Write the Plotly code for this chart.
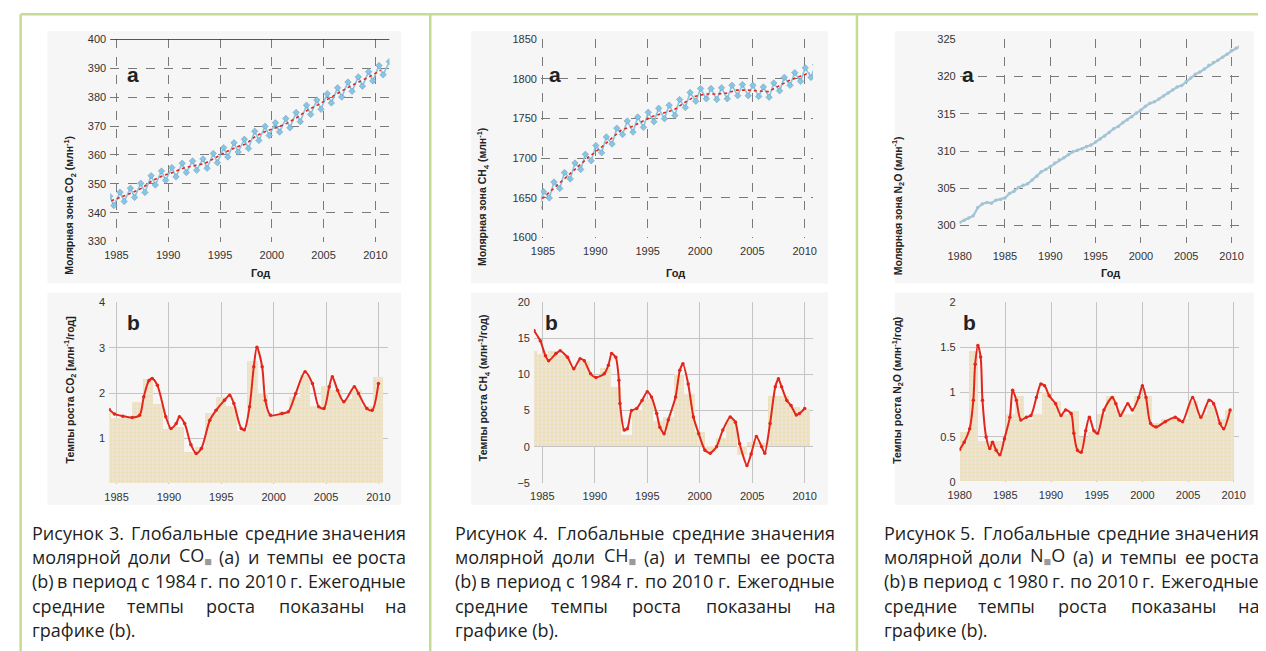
import plotly.graph_objects as go

W, H = 1266, 651

# ---------------- DATA ----------------
# CO2 (a): annual trend, seasonal maxima / minima (ppm)
CO2_YEARS = list(range(1984, 2011))
CO2_TREND = [344.1, 345.5, 346.9, 348.6, 351.2, 352.8, 354.0, 355.5, 356.3, 357.0,
             358.9, 360.9, 362.6, 363.8, 366.6, 368.3, 369.5, 371.0, 373.1, 375.6,
             377.4, 379.6, 381.6, 383.6, 385.4, 387.2, 389.3]
CO2_SEAS_YEARS = list(range(1984, 2012))
CO2_PEAK = [345.7, 347.1, 348.5, 350.2, 352.8, 354.4, 355.6, 357.1, 357.9, 358.6,
            360.5, 362.5, 364.2, 365.4, 368.2, 369.9, 371.1, 372.6, 374.7, 377.2,
            379.0, 381.2, 383.2, 385.2, 387.0, 388.8, 390.9, 392.3]
CO2_TROUGH = [342.5, 343.9, 345.3, 347.0, 349.6, 351.2, 352.4, 353.9, 354.7, 355.4,
              357.3, 359.3, 361.0, 362.2, 365.0, 366.7, 367.9, 369.4, 371.5, 374.0,
              375.8, 378.0, 380.0, 382.0, 383.8, 385.6, 387.7, 389.0]

# CO2 (b): growth rate (ppm/yr)
CO2_GR_X = [1984.3, 1984.8, 1985.6, 1986.5, 1987.2, 1987.6, 1988.1, 1988.4, 1988.9, 1989.7,
            1990.2, 1990.7, 1991.0, 1991.5, 1992.1, 1992.6, 1993.1, 1993.9, 1994.5, 1995.3,
            1995.8, 1996.2, 1996.9, 1997.2, 1997.7, 1998.1, 1998.4, 1998.9, 1999.2, 1999.7,
            2000.8, 2001.4, 2002.1, 2003.0, 2003.7, 2004.3, 2004.8, 2005.3, 2005.6, 2006.1,
            2006.7, 2007.7, 2008.1, 2008.9, 2009.4, 2010.0]
CO2_GR_Y = [1.64, 1.54, 1.49, 1.46, 1.51, 1.92, 2.28, 2.32, 2.17, 1.48,
            1.22, 1.33, 1.48, 1.33, 0.86, 0.67, 0.78, 1.40, 1.62, 1.84,
            1.95, 1.77, 1.22, 1.19, 1.70, 2.58, 3.01, 2.58, 1.84, 1.51,
            1.55, 1.59, 1.99, 2.47, 2.21, 1.70, 1.66, 2.14, 2.36, 2.06,
            1.81, 2.14, 1.99, 1.66, 1.62, 2.21]
CO2_BAR_YEARS = list(range(1984, 2011))
CO2_BAR = [1.6, 1.45, 1.45, 1.8, 2.3, 1.75, 1.2, 1.25, 0.7, 0.8,
           1.55, 1.9, 1.7, 1.15, 2.7, 2.0, 1.5, 1.6, 1.9, 2.4,
           1.7, 2.15, 2.05, 1.85, 2.05, 1.7, 2.35]

# CH4 (a): annual trend, seasonal maxima / minima (ppb)
CH4_YEARS = list(range(1984, 2011))
CH4_TREND = [1644, 1656, 1668, 1680, 1692, 1703, 1713, 1724, 1736, 1740,
             1746, 1753, 1757, 1761, 1770, 1778, 1781, 1781, 1782, 1786,
             1786, 1785, 1784, 1791, 1798, 1803, 1808]
CH4_SEAS_YEARS = list(range(1984, 2012))
CH4_PEAK = [1646, 1658, 1670, 1682, 1694, 1705, 1716, 1727, 1738, 1747,
            1752, 1758, 1763, 1767, 1774, 1783, 1788, 1788, 1789, 1792,
            1793, 1792, 1790, 1795, 1802, 1808, 1814, 1818]
CH4_TROUGH = [1638, 1650, 1662, 1674, 1686, 1697, 1707, 1718, 1730, 1733,
              1739, 1746, 1750, 1754, 1764, 1772, 1775, 1774, 1775, 1779,
              1779, 1778, 1777, 1785, 1792, 1797, 1802, 1806]

# CH4 (b): growth rate (ppb/yr)
CH4_GR_X = [1984.2, 1984.8, 1985.3, 1985.6, 1986.3, 1986.7, 1987.4, 1988.0, 1988.6, 1989.0,
            1989.6, 1990.1, 1990.9, 1991.3, 1991.6, 1992.0, 1992.3, 1992.4, 1992.8, 1993.1,
            1993.5, 1994.0, 1994.5, 1995.0, 1995.4, 1995.9, 1996.2, 1996.6, 1997.0, 1997.7,
            1998.1, 1998.4, 1998.9, 1999.4, 1999.9, 2000.5, 2001.0, 2001.6, 2002.2, 2002.9,
            2003.4, 2003.8, 2004.5, 2004.9, 2005.4, 2005.9, 2006.2, 2006.7, 2007.2, 2007.5,
            2007.8, 2008.3, 2008.7, 2009.2, 2009.5, 2010.0]
CH4_GR_Y = [16.1, 14.7, 12.6, 11.9, 12.9, 13.3, 12.4, 10.8, 12.2, 11.9,
            10.1, 9.6, 10.1, 11.3, 12.9, 12.4, 9.2, 6.0, 2.3, 2.5,
            5.0, 5.3, 6.4, 7.6, 6.9, 4.6, 2.7, 1.8, 3.7, 6.9,
            10.6, 11.5, 8.7, 4.1, 1.8, -0.5, -0.9, 0.0, 2.3, 4.1,
            3.4, 0.4, -2.6, -1.0, 1.4, 0.0, -0.9, 3.2, 8.3, 9.4,
            8.3, 6.4, 5.7, 4.4, 4.6, 5.3]
CH4_BAR_YEARS = list(range(1984, 2011))
CH4_BAR = [13.2, 12.8, 13.2, 12.6, 11.0, 11.8, 9.8, 10.8, 8.2, 1.5,
           5.0, 6.5, 3.5, 4.0, 10.0, 7.2, 2.0, -0.8, 1.2, 3.6,
           -1.2, 0.6, 0.4, 7.0, 7.0, 5.5, 5.2]

# N2O (a): mole fraction (ppb)
N2O_X = [1980.0, 1980.5, 1981.0, 1981.5, 1982.0, 1982.5, 1983.0, 1983.5, 1984.0, 1984.5,
         1985.0, 1985.5, 1986.0, 1986.5, 1987.0, 1987.5, 1988.0, 1988.5, 1989.0, 1989.5,
         1990.0, 1990.5, 1991.0, 1991.5, 1992.0, 1992.5, 1993.0, 1993.5, 1994.0, 1994.5,
         1995.0, 1995.5, 1996.0, 1996.5, 1997.0, 1997.5, 1998.0, 1998.5, 1999.0, 1999.5,
         2000.0, 2000.5, 2001.0, 2001.5, 2002.0, 2002.5, 2003.0, 2003.5, 2004.0, 2004.5,
         2005.0, 2005.5, 2006.0, 2006.5, 2007.0, 2007.5, 2008.0, 2008.5, 2009.0, 2009.5,
         2010.0, 2010.5, 2010.9]
N2O_Y = [300.4, 300.7, 301.0, 301.3, 302.4, 302.9, 303.1, 303.0, 303.4, 303.5,
         303.7, 304.3, 304.6, 305.1, 305.4, 305.6, 306.1, 306.6, 307.2, 307.5,
         307.9, 308.4, 308.8, 309.1, 309.5, 309.9, 310.1, 310.3, 310.6, 310.8,
         311.2, 311.6, 312.0, 312.5, 313.0, 313.3, 313.8, 314.2, 314.6, 315.1,
         315.5, 316.0, 316.4, 316.6, 317.0, 317.4, 317.8, 318.2, 318.6, 318.8,
         319.3, 319.8, 320.3, 320.6, 321.0, 321.5, 321.9, 322.2, 322.6, 323.0,
         323.5, 323.8, 324.0]

# N2O (b): growth rate (ppb/yr)
N2O_GR_X = [1980.0, 1980.5, 1981.1, 1981.5, 1981.7, 1982.0, 1982.3, 1982.5, 1982.9, 1983.3,
            1983.6, 1984.0, 1984.4, 1984.9, 1985.5, 1985.8, 1986.2, 1986.7, 1987.3, 1987.8,
            1988.4, 1988.9, 1989.3, 1989.8, 1990.5, 1991.1, 1991.6, 1992.2, 1992.5, 1992.9,
            1993.3, 1993.8, 1994.2, 1994.7, 1995.1, 1995.8, 1996.7, 1997.1, 1997.6, 1998.4,
            1998.9, 1999.6, 2000.0, 2000.4, 2000.9, 2001.5, 2002.5, 2003.6, 2004.0, 2004.4,
            2005.5, 2006.4, 2007.3, 2007.8, 2008.5, 2008.9, 2009.6]
N2O_GR_Y = [0.36, 0.44, 0.59, 0.91, 1.31, 1.52, 1.39, 0.91, 0.50, 0.37,
            0.44, 0.35, 0.30, 0.48, 0.72, 1.02, 0.91, 0.69, 0.72, 0.74,
            0.94, 1.09, 1.07, 0.96, 0.87, 0.74, 0.80, 0.76, 0.54, 0.35,
            0.33, 0.57, 0.72, 0.57, 0.54, 0.80, 0.94, 0.87, 0.74, 0.87,
            0.80, 0.94, 1.07, 0.94, 0.65, 0.61, 0.67, 0.72, 0.69, 0.67,
            0.94, 0.72, 0.91, 0.87, 0.65, 0.59, 0.80]
N2O_BAR_YEARS = list(range(1980, 2010))
N2O_BAR = [0.55, 1.45, 0.45, 0.45, 0.45, 0.75, 0.95, 0.7, 0.75, 1.0,
           0.9, 0.75, 0.78, 0.5, 0.55, 0.75, 0.95, 0.8, 0.75, 0.95,
           0.95, 0.65, 0.7, 0.72, 0.7, 0.9, 0.75, 0.85, 0.7, 0.8]

# Tick labels
CO2_A_YTICKS = [330, 340, 350, 360, 370, 380, 390, 400]
CH4_A_YTICKS = [1600, 1650, 1700, 1750, 1800, 1850]
N2O_A_YTICKS = [300, 305, 310, 315, 320, 325]
CO2_B_YTICKS = [1, 2, 3, 4]
CH4_B_YTICKS = [-5, 0, 5, 10, 15, 20]
N2O_B_YTICKS = [0, 0.5, 1, 1.5, 2]
N2O_B_YTEXT = ["0", "0.5", "1", "1.5", "2"]
XTICKS_84 = [1985, 1990, 1995, 2000, 2005, 2010]
XTICKS_80 = [1980, 1985, 1990, 1995, 2000, 2005, 2010]

# ---------------- helpers ----------------
SX, OX = 0.988, 17.5
SY, OY = 0.985, 12.6

def px(x):
    return max(0.0005, min(1, ((x - OX) / SX) / W))

def py(y):
    return max(0, min(0.9995, 1 - ((y - OY) / SY) / H))

GRAY_SQ = "<span style='color:#9a9a9a'>■</span>"

fig = go.Figure()

RED = "#e3261b"
BLUE = "#86c5e4"
BAR_BG = "#efe4d6"
BAR_FG = "#e6d98a"

def seasonal_xy(years, peak, trough, p_off, t_off):
    xs, ys = [], []
    for yr, p, t in zip(years, peak, trough):
        xs += [yr + p_off, yr + t_off]
        ys += [p, t]
    return xs, ys

sx, sy = seasonal_xy(CO2_SEAS_YEARS, CO2_PEAK, CO2_TROUGH, 0.35, 0.75)
fig.add_trace(go.Scatter(x=sx, y=sy, mode="lines+markers", xaxis="x", yaxis="y",
                         line=dict(color=BLUE, width=1.6),
                         marker=dict(symbol="diamond", size=5, color=BLUE,
                                     line=dict(width=0.5, color="#6f98b0"))))
fig.add_trace(go.Scatter(x=[y + 0.5 for y in CO2_YEARS], y=CO2_TREND, mode="lines",
                         xaxis="x", yaxis="y", line=dict(color=RED, width=1.6, dash="dot")))

pat = dict(shape=".", fgcolor=BAR_FG, bgcolor=BAR_BG, size=4, solidity=0.45)
fig.add_trace(go.Bar(x=CO2_BAR_YEARS, y=CO2_BAR, width=1, xaxis="x2", yaxis="y2",
                     marker=dict(color=BAR_BG, pattern=pat, line=dict(width=0))))
fig.add_trace(go.Scatter(x=CO2_GR_X, y=CO2_GR_Y, mode="lines+markers", xaxis="x2", yaxis="y2",
                         line=dict(color=RED, width=2, shape="spline", smoothing=0.8),
                         marker=dict(size=3.5, color=RED)))

sx, sy = seasonal_xy(CH4_SEAS_YEARS, CH4_PEAK, CH4_TROUGH, 0.05, 0.6)
fig.add_trace(go.Scatter(x=sx, y=sy, mode="lines+markers", xaxis="x3", yaxis="y3",
                         line=dict(color=BLUE, width=1.6),
                         marker=dict(symbol="diamond", size=5, color=BLUE,
                                     line=dict(width=0.5, color="#6f98b0"))))
fig.add_trace(go.Scatter(x=[y + 0.5 for y in CH4_YEARS], y=CH4_TREND, mode="lines",
                         xaxis="x3", yaxis="y3", line=dict(color=RED, width=1.6, dash="dot")))

fig.add_trace(go.Bar(x=CH4_BAR_YEARS, y=CH4_BAR, width=1, xaxis="x4", yaxis="y4",
                     marker=dict(color=BAR_BG, pattern=pat, line=dict(width=0))))
fig.add_trace(go.Scatter(x=CH4_GR_X, y=CH4_GR_Y, mode="lines+markers", xaxis="x4", yaxis="y4",
                         line=dict(color=RED, width=2, shape="spline", smoothing=0.6),
                         marker=dict(size=3.5, color=RED)))

fig.add_trace(go.Scatter(x=N2O_X, y=N2O_Y, mode="lines+markers", xaxis="x5", yaxis="y5",
                         line=dict(color="#9cc8de", width=2.2),
                         marker=dict(size=3.5, color="#a9c2d0")))

fig.add_trace(go.Bar(x=[y + 0.5 for y in N2O_BAR_YEARS], y=N2O_BAR, width=1, xaxis="x6", yaxis="y6",
                     marker=dict(color=BAR_BG, pattern=pat, line=dict(width=0))))
fig.add_trace(go.Scatter(x=N2O_GR_X, y=N2O_GR_Y, mode="lines+markers", xaxis="x6", yaxis="y6",
                         line=dict(color=RED, width=2, shape="spline", smoothing=0.8),
                         marker=dict(size=3.5, color=RED)))

TICKFONT = dict(family="Liberation Sans, Arial", size=11, color="#333333")

def xax(x0, x1, rng, ticks, anchor, grid_a):
    d = dict(domain=[px(x0), px(x1)], range=rng, tickvals=ticks, anchor=anchor,
             showgrid=True, zeroline=False, showline=False, ticks="",
             tickfont=TICKFONT, fixedrange=True, ticklabelstandoff=5)
    if grid_a:
        d.update(gridcolor="#7a7a7a", griddash="dash", gridwidth=0.8)
    else:
        d.update(gridcolor="#c4c4c4", gridwidth=1)
    return d

def yax(y0, y1, rng, ticks, anchor, grid_a, text=None):
    d = dict(domain=[py(y1), py(y0)], range=rng, tickvals=ticks, anchor=anchor,
             showgrid=True, zeroline=False, showline=False, ticks="",
             tickfont=TICKFONT, fixedrange=True, ticklabelstandoff=3)
    if text:
        d["ticktext"] = text
    if grid_a:
        d.update(gridcolor="#7a7a7a", griddash="dash", gridwidth=0.8)
    else:
        d.update(gridcolor="#c4c4c4", gridwidth=1)
    return d

layout = dict(
    width=W, height=H, margin=dict(l=0, r=0, t=0, b=0),
    paper_bgcolor="white", plot_bgcolor="white", showlegend=False,
    barmode="overlay", bargap=0,
    xaxis=xax(108, 388, [1984.4, 2011.35], XTICKS_84, "y", True),
    yaxis=yax(38, 241, [330, 400], CO2_A_YTICKS, "x", True),
    xaxis2=xax(107, 387, [1984.3, 2010.95], XTICKS_84, "y2", False),
    yaxis2=yax(302, 484, [0, 4], CO2_B_YTICKS, "x2", False),
    xaxis3=xax(540, 813, [1984.8, 2010.8], XTICKS_84, "y3", True),
    yaxis3=yax(38, 237, [1600, 1850], CH4_A_YTICKS, "x3", True),
    xaxis4=xax(533, 813, [1984.2, 2010.8], XTICKS_84, "y4", False),
    yaxis4=yax(302, 483, [-5, 20], CH4_B_YTICKS, "x4", False),
    xaxis5=xax(960, 1240, [1980, 2010.8], XTICKS_80, "y5", True),
    yaxis5=yax(38, 242, [297.7, 325], N2O_A_YTICKS, "x5", True),
    xaxis6=xax(960, 1240, [1980, 2010.55], XTICKS_80, "y6", False),
    yaxis6=yax(302, 482, [0, 2], N2O_B_YTICKS, "x6", False, N2O_B_YTEXT),
)
fig.update_layout(**layout)

GREEN = "#c7db92"
shapes = [
    dict(type="line", xref="paper", yref="paper", x0=px(8), x1=1, y0=py(9), y1=py(9),
         line=dict(color=GREEN, width=2.5)),
    dict(type="line", xref="paper", yref="paper", x0=px(8), x1=px(8), y0=0, y1=py(9),
         line=dict(color=GREEN, width=2.5)),
    dict(type="line", xref="paper", yref="paper", x0=px(429), x1=px(429), y0=0, y1=py(9),
         line=dict(color=GREEN, width=2.5)),
    dict(type="line", xref="paper", yref="paper", x0=px(857), x1=px(857), y0=0, y1=py(9),
         line=dict(color=GREEN, width=2.5)),
    dict(type="line", xref="x domain", yref="y", x0=0, x1=1, y0=400, y1=400,
         line=dict(color="#222", width=1.5)),
]
for (x0, y0, x1, y1) in [(45, 30, 400, 283), (45, 292, 400, 505),
                         (470, 30, 828, 283), (470, 292, 828, 505),
                         (895, 30, 1255, 283), (895, 292, 1255, 505)]:
    shapes.append(dict(type="rect", xref="paper", yref="paper", layer="below",
                       x0=px(x0), x1=px(x1), y0=py(y1), y1=py(y0),
                       fillcolor="#f6f6f6", line=dict(width=0)))
fig.update_layout(shapes=shapes)

ann = []
TF = dict(family="Liberation Sans, Arial", size=10.5, color="#222")

def a(x, y, text, **kw):
    d = dict(x=px(x), y=py(y), xref="paper", yref="paper", text=text, showarrow=False)
    d.update(kw)
    ann.append(d)

a(58, 133, "<b>Молярная зона CO<sub>2</sub> (млн<sup>-1</sup>)</b>", textangle=-90, font=TF)
a(58, 390, "<b>Темпы роста CO<sub>2</sub> [млн<sup>-1</sup>/год]</b>", textangle=-90, font=TF)
a(482, 125, "<b>Молярная зона CH<sub>4</sub> (млн<sup>-1</sup>)</b>", textangle=-90, font=TF)
a(483, 388, "<b>Темпы роста CH<sub>4</sub> (млн<sup>-1</sup>/год)</b>", textangle=-90, font=TF)
a(909, 133, "<b>Молярная зона N<sub>2</sub>O (млн<sup>-1</sup>)</b>", textangle=-90, font=TF)
a(908, 390, "<b>Темпы роста N<sub>2</sub>O (млн<sup>-1</sup>/год)</b>", textangle=-90, font=TF)
for x in (247, 675, 1123):
    a(x, 273, "<b>Год</b>", font=dict(family="Liberation Sans, Arial", size=11, color="#222"))

LF = dict(family="Liberation Sans, Arial", size=21, color="#222")
a(123, 60, "<b>a</b>", font=LF)
a(554, 60, "<b>a</b>", font=LF)
a(976, 60, "<b>a</b>", font=LF)
a(123, 322, "<b>b</b>", font=LF)
a(551, 322, "<b>b</b>", font=LF)
a(978, 322, "<b>b</b>", font=LF)

# ---------------- captions (justified) ----------------
CAP_SIZE = 18
CF = dict(family="Open Sans", size=CAP_SIZE, color="#1e1e1e")
CW = {"а": .556, "б": .6, "в": .58, "г": .45, "д": .59, "е": .56, "ж": .82, "з": .49,
      "и": .64, "й": .64, "к": .56, "л": .6, "м": .76, "н": .64, "о": .6, "п": .64,
      "р": .61, "с": .48, "т": .47, "у": .51, "ф": .77, "х": .52, "ц": .65, "ч": .6,
      "ш": .92, "щ": .94, "ъ": .64, "ы": .83, "ь": .57, "э": .5, "ю": .86, "я": .57,
      "Р": .6, "Г": .52, "Е": .56, "C": .63, "O": .78, "N": .76, "H": .74,
      ".": .27, "(": .3, ")": .3, "a": .556, "b": .61, "■": .45}

def word_w(plain):
    return sum(CW.get(ch, .572) for ch in plain) * CAP_SIZE * 1.0

def justify(words, x0, x1, y):
    widths = [word_w(p) for _, p in words]
    gap = (x1 - x0 - sum(widths)) / (len(words) - 1)
    pos = x0
    for i, ((h, _), w_) in enumerate(zip(words, widths)):
        if i == 0:
            a(x0, y, h, xanchor="left", yanchor="middle", font=CF)
        elif i == len(words) - 1:
            a(x1, y, h, xanchor="right", yanchor="middle", font=CF)
        else:
            a(pos + w_ / 2, y, h, xanchor="center", yanchor="middle", font=CF)
        pos += w_ + gap

LINE_Y = [533, 557, 582, 607, 631]
captions = [
    (28, 407, "3", ("CO<sub>" + GRAY_SQ + "</sub>", "CO■"), "1984"),
    (452, 837, "4", ("CH<sub>" + GRAY_SQ + "</sub>", "CH■"), "1984"),
    (882, 1262, "5", ("N<sub>" + GRAY_SQ + "</sub>O", "N■O"), "1980"),
]
def W_(t):
    return (t, t)

for x0, x1, num, gas, y0 in captions:
    rows = [
        [W_("Рисунок"), W_(num + "."), W_("Глобальные"), W_("средние"), W_("значения")],
        [W_("молярной"), W_("доли"), gas, W_("(a)"), W_("и"), W_("темпы"), W_("ее"), W_("роста")],
        [W_("(b)"), W_("в"), W_("период"), W_("с"), W_(y0), W_("г."), W_("по"), W_("2010"),
         W_("г."), W_("Ежегодные")],
        [W_("средние"), W_("темпы"), W_("роста"), W_("показаны"), W_("на")],
    ]
    for i, r in enumerate(rows):
        justify(r, x0, x1, LINE_Y[i])
    a(x0, LINE_Y[4], "графике (b).", xanchor="left", yanchor="middle", font=CF)

fig.update_layout(annotations=ann)
fig.write_html("out.html")
